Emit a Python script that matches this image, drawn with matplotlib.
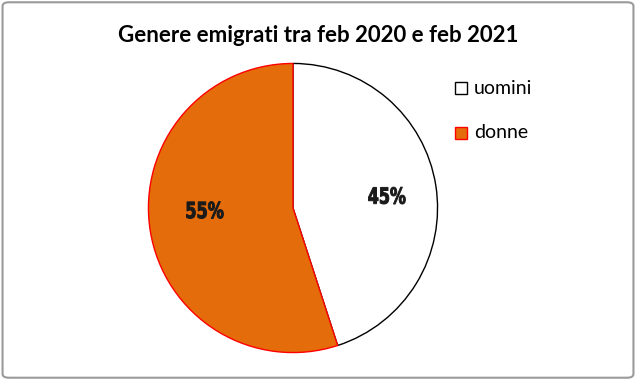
import matplotlib.pyplot as plt
from matplotlib.patches import FancyBboxPatch, Rectangle, PathPatch
from matplotlib.textpath import TextPath
from matplotlib.font_manager import FontProperties
from matplotlib.transforms import Affine2D

labels = ['uomini', 'donne']
values = [45, 55]
colors = ['white', '#E46C0A']
edges = ['black', '#FF0000']

fig = plt.figure(figsize=(6.36, 3.8), dpi=100)
W, H = 636, 380

# outer border
fig.patches.append(FancyBboxPatch((0.004, 0.006), 0.992, 0.988, boxstyle='round,pad=0,rounding_size=0.01',
                                  transform=fig.transFigure, fill=False, edgecolor='#9a9a9a', linewidth=1.5))

cx, cy, r = 293, 380 - 208, 146
ax = fig.add_axes([(cx - r) / W, (cy - r) / H, 2 * r / W, 2 * r / H])
wedges, _ = ax.pie(values, colors=colors, startangle=90, counterclock=False, radius=1,
                   wedgeprops=dict(linewidth=1.0))
for w, ec in zip(wedges, edges):
    w.set_edgecolor(ec)
ax.set_xlim(-1.01, 1.01)
ax.set_ylim(-1.01, 1.01)
ax.set_aspect('equal')
ax.axis('off')

# condensed heavy percentage labels (squeezed text paths)
pct_pos = [(0.650, 0.086), (-0.609, -0.014)]
fp = FontProperties(family='DejaVu Sans', weight='bold')
for v, (x, y) in zip(values, pct_pos):
    tp = TextPath((0, 0), f'{v}%', size=1, prop=fp)
    ext = tp.get_extents()
    sx = 0.255 / ext.width
    sy = 0.117 / ext.height
    tr = (Affine2D().translate(-(ext.x0 + ext.width / 2), -(ext.y0 + ext.height / 2))
          .scale(sx, sy).translate(x, y))
    ax.add_patch(PathPatch(tr.transform_path(tp), facecolor='#1a1a1a', edgecolor='#1a1a1a', lw=0.7))

fig.text(318 / W, 1 - 35 / H, 'Genere emigrati tra feb 2020 e feb 2021', ha='center', va='center',
         fontsize=16, fontweight='bold', family=['Lato', 'DejaVu Sans'])

for i, lab in enumerate(labels):
    y = 1 - (88 + 45 * i) / H
    fig.patches.append(Rectangle((455 / W, y - 6 / H), 12 / W, 12 / H, transform=fig.transFigure,
                                 facecolor=colors[i], edgecolor=edges[i], linewidth=1))
    fig.text(474 / W, y, lab, ha='left', va='center', fontsize=14, family=['Lato', 'DejaVu Sans'])

fig.savefig('out.png', dpi=100)
